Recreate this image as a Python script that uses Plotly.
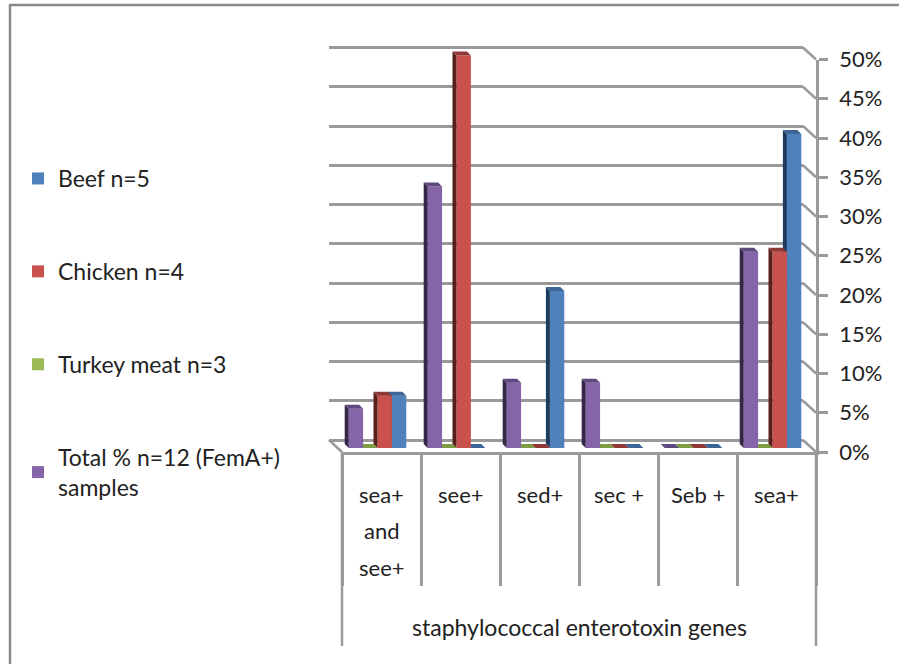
import plotly.graph_objects as go

categories = ["sea+ and see+", "see+", "sed+", "sec +", "Seb +", "sea+"]
category_lines = [["sea+", "and", "see+"], ["see+"], ["sed+"], ["sec +"], ["Seb +"], ["sea+"]]
total = [5, 33.3, 8.3, 8.3, 0, 25]
turkey = [0, 0, 0, 0, 0, 0]
chicken = [6.67, 50, 0, 0, 0, 25]
beef = [6.67, 0, 20, 0, 0, 40]
y_ticks = [0, 5, 10, 15, 20, 25, 30, 35, 40, 45, 50]
y_labels = [f"{v}%" for v in y_ticks]
axis_title = "staphylococcal enterotoxin genes"

W, H = 899, 664
X0, X1, Y0, Y50 = 342, 816, 452, 59.5
FONT = "Lato, Carlito, Calibri, sans-serif"
TXT = "#222222"
GRID = "#9a9a9a"
px = lambda v: v / W
py = lambda v: 1 - v / H
xdom = lambda s: [px(X0 + s), px(X1 + s)]
ydom = lambda s: [py(Y0 + s), py(Y50 + s)]
cat_px = (X1 - X0) / 6
val_px = (Y0 - Y50) / 50
BAR = 14.4 / cat_px
DEPTH_X, DEPTH_Y = 4 / cat_px, 4 / val_px

# series: drawn from the far right to the near left, so nearer bars hide farther sides
series = [
    ("Beef n=5", beef, "#4F81BD", "#1D3B5F", "#3A6596", 3),
    ("Chicken n=4", chicken, "#C9524E", "#5A1F1D", "#8F3835", 2),
    ("Turkey meat n=3", turkey, "#9BBB59", "#55692C", "#7E9C43", 1),
    ("Total % n=12 (FemA+)<br>samples", total, "#8565A8", "#35274A", "#5F4A80", 0),
]

fig = go.Figure()
layout_axes = {}

# main axes: value axis on the right, category separators below
fig.add_trace(go.Scatter(x=[0.5], y=[0], mode="markers", marker=dict(opacity=0), showlegend=False, hoverinfo="skip"))
layout_axes["xaxis"] = dict(domain=xdom(0), range=[0, 6], tickvals=list(range(7)), ticktext=[""] * 7,
                            ticks="outside", ticklen=131, tickwidth=2.5, tickcolor=GRID,
                            showline=True, linecolor=GRID, linewidth=2.5, showgrid=False, zeroline=False, fixedrange=True)
layout_axes["yaxis"] = dict(domain=ydom(0), range=[0, 50], side="right", anchor="x", tickvals=y_ticks, ticktext=y_labels,
                            ticks="outside", ticklen=9, tickwidth=2.5, tickcolor=GRID,
                            showline=True, linecolor=GRID, linewidth=2.5, showgrid=False, zeroline=False,
                            tickfont=dict(family=FONT, size=22, color=TXT), ticklabelstandoff=7, fixedrange=True)

# back wall with gridlines; the range runs one unit past both ends so the end gridlines are drawn
fig.add_trace(go.Scatter(x=[0.5], y=[0], xaxis="x2", yaxis="y2", mode="markers", marker=dict(opacity=0),
                         showlegend=False, hoverinfo="skip"))
layout_axes["xaxis2"] = dict(domain=xdom(-13), range=[0, 6], visible=False, fixedrange=True)
layout_axes["yaxis2"] = dict(domain=[py(Y0 - 12 + val_px), py(Y50 - 12 - val_px)], range=[-1, 51], anchor="x2",
                             tickvals=y_ticks, ticktext=[""] * 11, showgrid=True,
                             gridcolor=GRID, gridwidth=2.5, zeroline=False, showline=False, ticks="", fixedrange=True)

for n, (name, vals, front, side, top, idx) in enumerate(series):
    k = n + 3
    xn, yn = f"x{k}", f"y{k}"
    layout_axes[f"xaxis{k}"] = dict(domain=xdom(-4), range=[0, 6], visible=False, fixedrange=True)
    layout_axes[f"yaxis{k}"] = dict(domain=[py(Y0 - 4), py(Y50 - 4 - 2 * val_px)], range=[0, 52], anchor=xn,
                                    visible=False, fixedrange=True)
    off = (idx - 2) * BAR
    sx, sy, tx, ty = [], [], [], []
    for c, v in enumerate(vals):
        left = c + 0.5 + off
        if v > 0:
            sx += [left, left, left - DEPTH_X, left - DEPTH_X, None]
            sy += [0, v, v + DEPTH_Y, DEPTH_Y, None]
        tx += [left, left + BAR, left + BAR - DEPTH_X, left - DEPTH_X, None]
        ty += [v, v, v + DEPTH_Y, v + DEPTH_Y, None]
    fig.add_trace(go.Scatter(x=sx, y=sy, xaxis=xn, yaxis=yn, mode="none", fill="toself", fillcolor=side,
                             showlegend=False, hoverinfo="skip"))
    fig.add_trace(go.Scatter(x=tx, y=ty, xaxis=xn, yaxis=yn, mode="none", fill="toself", fillcolor=top,
                             showlegend=False, hoverinfo="skip"))
    fig.add_trace(go.Bar(x=[c + 0.5 for c in range(6)], y=vals, width=BAR, offset=off, xaxis=xn, yaxis=yn,
                         name=name, legendgroup=name, marker=dict(color=front, line=dict(width=0)),
                         hovertext=categories))

shapes = [dict(type="line", xref="paper", yref="paper", x0=px(X1 - 13), x1=px(X1),
               y0=py(Y0 - v * val_px - 12), y1=py(Y0 - v * val_px), line=dict(color=GRID, width=2.5))
          for v in y_ticks]
# floor, lower level outline and chart frame
shapes += [
    dict(type="line", xref="paper", yref="paper", x0=px(X0 - 13), x1=px(X0), y0=py(Y0 - 12), y1=py(Y0), line=dict(color=GRID, width=2.5)),
    dict(type="line", xref="paper", yref="paper", x0=px(X0), x1=px(X0), y0=py(Y0), y1=py(646), line=dict(color=GRID, width=2.5)),
    dict(type="line", xref="paper", yref="paper", x0=px(X1), x1=px(X1), y0=py(Y0), y1=py(646), line=dict(color=GRID, width=2.5)),
    dict(type="line", xref="paper", yref="paper", x0=px(10), x1=px(10), y0=py(5), y1=py(664), line=dict(color="#8a8a8a", width=2.5)),
    dict(type="line", xref="paper", yref="paper", x0=px(9), x1=px(899), y0=py(5), y1=py(5), line=dict(color="#8a8a8a", width=2.5)),
]

annotations = []
for c, lines in enumerate(category_lines):
    for j, line in enumerate(lines):
        annotations.append(dict(text=line, xref="x", yref="paper", x=c + 0.5, y=py(494 + j * 36.5), showarrow=False,
                                xanchor="center", yanchor="middle", font=dict(family=FONT, size=22, color=TXT)))
annotations.append(dict(text=axis_title, xref="paper", yref="paper", x=px(579), y=py(627), showarrow=False,
                        xanchor="center", yanchor="middle", font=dict(family=FONT, size=23, color=TXT)))

fig.update_layout(
    width=W, height=H, margin=dict(l=0, r=0, t=0, b=0, autoexpand=False),
    paper_bgcolor="white", plot_bgcolor="rgba(0,0,0,0)",
    showlegend=True, barmode="overlay",
    legend=dict(x=px(18), y=py(157), xanchor="left", yanchor="top", traceorder="grouped",
                tracegroupgap=60, font=dict(family=FONT, size=23, color=TXT), bgcolor="rgba(0,0,0,0)", itemwidth=30),
    shapes=shapes, annotations=annotations, **layout_axes,
)
fig.write_html("out.html", post_script="document.body.style.margin='0';", config={"displayModeBar": False})
